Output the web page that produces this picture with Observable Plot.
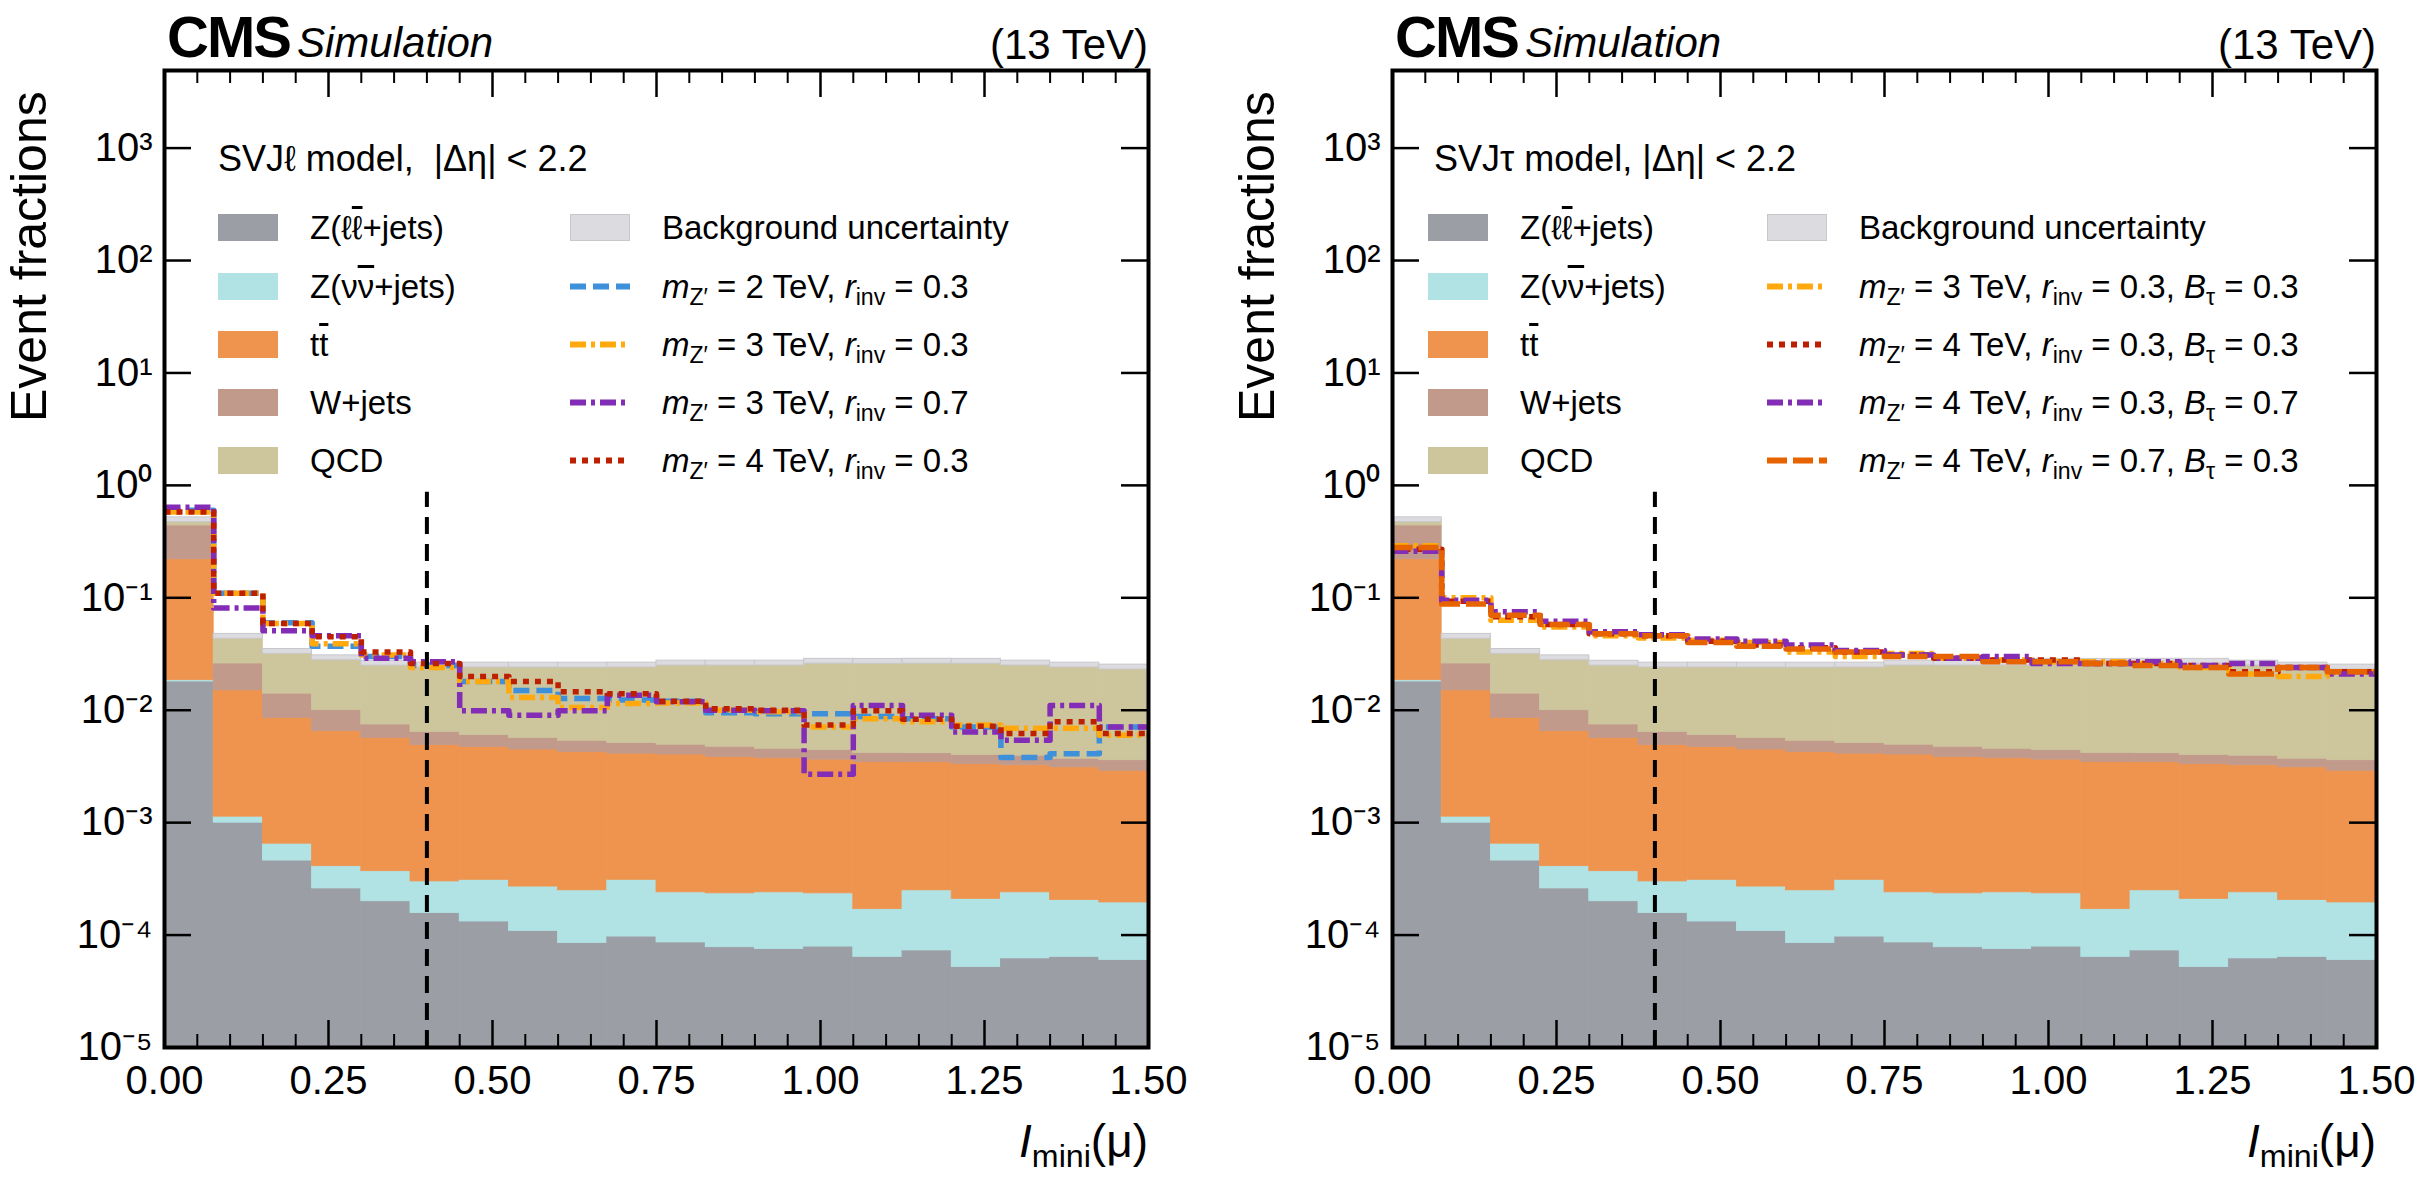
<!DOCTYPE html>
<html><head><meta charset="utf-8">
<script src="https://cdn.jsdelivr.net/npm/d3@7"></script>
<script src="https://cdn.jsdelivr.net/npm/@observablehq/plot@0.6"></script>
<style>
body{margin:0;background:#fff;font-family:"Liberation Sans",Arial,sans-serif;}
#root{position:relative;width:2435px;height:1183px;overflow:hidden;}
.pn{position:absolute;top:0;}
.t{position:absolute;white-space:nowrap;line-height:1;color:#000;}
.sw{position:absolute;width:60px;height:27px;}
sub{font-size:70%;vertical-align:-0.3em;line-height:0;}
</style></head><body><div id="root"></div>
<script>
// bin lower edges (Imini)
const binLo = [0,0.075,0.15,0.225,0.3,0.375,0.45,0.525,0.6,0.675,0.75,0.825,0.9,0.975,1.05,1.125,1.2,1.275,1.35,1.425];
const binHi = 1.5;
// background contributions (event fractions), stacked bottom -> top
const zll = [0.018,1.0e-3,4.6e-4,2.6e-4,2.0e-4,1.57e-4,1.32e-4,1.09e-4,8.5e-5,9.7e-5,8.6e-5,7.8e-5,7.5e-5,7.9e-5,6.4e-5,7.3e-5,5.2e-5,6.2e-5,6.4e-5,6.0e-5];
const znn = [5e-4,1.3e-4,1.9e-4,1.5e-4,1.7e-4,1.43e-4,1.78e-4,1.61e-4,1.65e-4,2.13e-4,1.54e-4,1.57e-4,1.65e-4,1.56e-4,1.06e-4,1.77e-4,1.58e-4,1.78e-4,1.41e-4,1.35e-4];
const ttbar = [0.2015,0.0139,0.0079,0.0061,0.0053,0.0046,0.0044,0.0042,0.0040,0.0038,0.0038,0.0036,0.0035,0.0034,0.0033,0.0032,0.0031,0.0030,0.0029,0.0027];
const wjets = [0.22,0.011,0.0055,0.0035,0.0018,0.0015,0.0013,0.0012,0.0011,0.0010,0.0009,0.0009,0.0008,0.0008,0.0007,0.0007,0.0007,0.0007,0.0006,0.0007];
const qcd = [0.05,0.019,0.019,0.019,0.0185,0.0186,0.019,0.0193,0.0196,0.0199,0.0211,0.0213,0.0215,0.0226,0.0228,0.0229,0.023,0.0221,0.0213,0.0204];
const procNames = ["zll","znn","tt","wj","qcd"];
const procColors = ["#9c9ea6","#b1e3e5","#ee944f","#c29a8c","#cdc59c"];
const uncLo = 0.96, uncHi = 1.06;
// left panel signals (SVJ lepton)
const sL_m2r03 = [0.60,0.11,0.060,0.037,0.030,0.025,0.018,0.015,0.0127,0.0123,0.012,0.0095,0.0093,0.0093,0.0088,0.0084,0.0071,0.0038,0.0041,0.0071];
const sL_m3r03 = [0.58,0.11,0.059,0.039,0.031,0.024,0.018,0.013,0.0106,0.0115,0.0116,0.010,0.0097,0.0071,0.0084,0.0079,0.0074,0.0069,0.0069,0.006];
const sL_m3r07 = [0.64,0.081,0.051,0.046,0.029,0.027,0.0099,0.009,0.0099,0.0136,0.0119,0.010,0.0099,0.0027,0.011,0.009,0.0064,0.0054,0.011,0.0071];
const sL_m4r03 = [0.58,0.11,0.059,0.045,0.033,0.026,0.020,0.018,0.0146,0.014,0.012,0.0103,0.010,0.0074,0.0099,0.0083,0.0072,0.0062,0.0079,0.0062];
// right panel signals (SVJ tau)
const sR_m3r03b03 = [0.29,0.10,0.063,0.055,0.046,0.044,0.042,0.040,0.033,0.030,0.032,0.029,0.028,0.027,0.027,0.026,0.024,0.021,0.020,0.022];
const sR_m4r03b03 = [0.27,0.093,0.068,0.058,0.048,0.046,0.041,0.038,0.036,0.033,0.031,0.029,0.028,0.028,0.026,0.026,0.025,0.022,0.024,0.022];
const sR_m4r03b07 = [0.26,0.095,0.075,0.062,0.050,0.047,0.043,0.041,0.038,0.034,0.031,0.029,0.030,0.026,0.026,0.027,0.025,0.026,0.024,0.021];
const sR_m4r07b03 = [0.28,0.088,0.070,0.058,0.048,0.046,0.040,0.037,0.035,0.033,0.030,0.030,0.027,0.027,0.026,0.025,0.024,0.021,0.024,0.022];
const xTicks = [0,0.25,0.5,0.75,1.0,1.25,1.5];
const xMinor = [0.05,0.1,0.15,0.2,0.3,0.35,0.4,0.45,0.55,0.6,0.65,0.7,0.8,0.85,0.9,0.95,1.05,1.1,1.15,1.2,1.3,1.35,1.4,1.45];
const yTicks = [1e-5,1e-4,1e-3,1e-2,1e-1,1,10,100,1000];
const yDomain = [1e-5, 4900];
const cutX = 0.4, cutTop = 0.87;

const FONT = '"Liberation Sans",Arial,sans-serif';
const supMap = {"-":"⁻","0":"⁰","1":"¹","2":"²","3":"³","4":"⁴","5":"⁵","6":"⁶","7":"⁷","8":"⁸","9":"⁹"};
const fmtY = d => "10" + String(Math.round(Math.log10(d))).split("").map(c=>supMap[c]).join("");

function panel(o){
  const W=o.width,H=1183,mt=70,mb=136,ml=o.ml,mr=o.mr;
  const iw=W-ml-mr, ih=H-mt-mb;
  const stacks=[];
  const comps=[zll,znn,ttbar,wjets,qcd];
  const tot=[];
  binLo.forEach((lo,i)=>{
    let acc=0;
    comps.forEach((c,k)=>{
      const b=acc; acc+=c[i];
      stacks.push({x1:lo,x2:i<binLo.length-1?binLo[i+1]:binHi,y1:Math.max(b,1e-5),y2:acc,proc:procNames[k]});
    });
    tot.push({x1:lo,x2:i<binLo.length-1?binLo[i+1]:binHi,y1:acc*uncLo,y2:acc*uncHi});
  });
  const lineMarks=o.signals.map(s=>{
    const pts=binLo.map((x,i)=>({x,y:s.v[i]})).concat([{x:binHi,y:s.v[s.v.length-1]}]);
    return Plot.line(pts,{x:"x",y:"y",curve:"step-after",stroke:s.color,strokeWidth:5.5,strokeDasharray:s.dash,strokeLinecap:"butt"});
  });
  return Plot.plot({
    width:W,height:H,marginTop:mt,marginBottom:mb,marginLeft:ml,marginRight:mr,
    style:{fontFamily:FONT,fontSize:"40px",color:"#000",background:"transparent"},
    x:{domain:[0,1.5]},
    y:{type:"log",domain:yDomain},
    color:{domain:procNames,range:procColors},
    marks:[
      Plot.rect(stacks,{x1:"x1",x2:"x2",y1:"y1",y2:"y2",fill:"proc",stroke:"proc",strokeWidth:0.8}),
      Plot.rect(tot,{x1:"x1",x2:"x2",y1:"y1",y2:"y2",fill:"#dcdce0",stroke:"#c8c8cc",strokeWidth:1}),
      ...lineMarks,
      Plot.ruleX([cutX],{y1:yDomain[0],y2:cutTop,stroke:"#000",strokeWidth:4,strokeDasharray:"17 10"}),
      Plot.tickX(xTicks,{x:d=>d,insetTop:ih-27,strokeWidth:2.5}),
      Plot.tickX(xTicks,{x:d=>d,insetBottom:ih-27,strokeWidth:2.5}),
      Plot.tickX(xMinor,{x:d=>d,insetTop:ih-13,strokeWidth:2}),
      Plot.tickX(xMinor,{x:d=>d,insetBottom:ih-13,strokeWidth:2}),
      Plot.tickY(yTicks,{y:d=>d,insetRight:iw-27,strokeWidth:2.5}),
      Plot.tickY(yTicks,{y:d=>d,insetLeft:iw-27,strokeWidth:2.5}),
      Plot.axisX({ticks:xTicks,tickSize:0,tickPadding:18,tickFormat:d3.format(".2f"),fontSize:40,label:null}),
      Plot.axisY({ticks:yTicks,tickSize:0,tickPadding:12,tickFormat:fmtY,fontSize:40,label:null}),
      Plot.frame({stroke:"#000",strokeWidth:4})
    ]
  });
}

const root=document.getElementById("root");
function addText(html,x,baseline,size,extra){
  const d=document.createElement("div");d.className="t";d.innerHTML=html;
  d.style.left=x+"px";d.style.top=(baseline-0.86*size)+"px";d.style.fontSize=size+"px";
  if(extra) Object.assign(d.style,extra);
  root.appendChild(d);return d;
}
function addSwatch(x,cy,fill,line){
  const s=document.createElementNS("http://www.w3.org/2000/svg","svg");
  s.setAttribute("class","sw");s.style.left=x+"px";s.style.top=(cy-13.5)+"px";
  s.setAttribute("width",60);s.setAttribute("height",27);
  if(fill){s.innerHTML=`<rect x="0.5" y="0.5" width="59" height="26" fill="${fill}" stroke="${fill==='#dcdce0'?'#c8c8cc':fill}" stroke-width="1"/>`;}
  else{s.innerHTML=`<line x1="0" x2="60" y1="13.5" y2="13.5" stroke="${line.color}" stroke-width="6" stroke-dasharray="${line.dash}"/>`;}
  root.appendChild(s);
}
const DASH={dashed:"16 7",dashdot:"16 5 4 5",dotted:"6 6",long:"20 6"};
const leftSignals=[
  {v:sL_m2r03,color:"#3f90da",dash:DASH.dashed,label:"<i>m</i><sub>Z′</sub> = 2 TeV, <i>r</i><sub>inv</sub> = 0.3"},
  {v:sL_m3r03,color:"#ffa90e",dash:DASH.dashdot,label:"<i>m</i><sub>Z′</sub> = 3 TeV, <i>r</i><sub>inv</sub> = 0.3"},
  {v:sL_m3r07,color:"#832db6",dash:DASH.dashdot,label:"<i>m</i><sub>Z′</sub> = 3 TeV, <i>r</i><sub>inv</sub> = 0.7"},
  {v:sL_m4r03,color:"#bd1f01",dash:DASH.dotted,label:"<i>m</i><sub>Z′</sub> = 4 TeV, <i>r</i><sub>inv</sub> = 0.3"}];
const rightSignals=[
  {v:sR_m3r03b03,color:"#ffa90e",dash:DASH.dashdot,label:"<i>m</i><sub>Z′</sub> = 3 TeV, <i>r</i><sub>inv</sub> = 0.3, <i>B</i><sub>τ</sub> = 0.3"},
  {v:sR_m4r03b03,color:"#bd1f01",dash:DASH.dotted,label:"<i>m</i><sub>Z′</sub> = 4 TeV, <i>r</i><sub>inv</sub> = 0.3, <i>B</i><sub>τ</sub> = 0.3"},
  {v:sR_m4r03b07,color:"#832db6",dash:DASH.dashdot,label:"<i>m</i><sub>Z′</sub> = 4 TeV, <i>r</i><sub>inv</sub> = 0.3, <i>B</i><sub>τ</sub> = 0.7"},
  {v:sR_m4r07b03,color:"#e76300",dash:DASH.long,label:"<i>m</i><sub>Z′</sub> = 4 TeV, <i>r</i><sub>inv</sub> = 0.7, <i>B</i><sub>τ</sub> = 0.3"}];
const bgLabels=["Z(ℓ<span style='text-decoration:overline'>ℓ</span>+jets)","Z(ν<span style='text-decoration:overline'>ν</span>+jets)","t<span style='text-decoration:overline'>t</span>","W+jets","QCD"];

function build(px,ml,mr,width,signals,title,leg){
  const wrap=document.createElement("div");wrap.className="pn";wrap.style.left=px+"px";
  wrap.appendChild(panel({width,ml,mr,signals}));root.appendChild(wrap);
  const fl=px+ml, fr=px+width-mr;
  addText("<b>CMS</b>",fl+3,58,58,{fontWeight:"bold",letterSpacing:"-2px"});
  addText("<i>Simulation</i>",fl+133,58,42);
  const e=addText("(13 TeV)",0,60,42);e.style.left="auto";e.style.right=(2435-fr)+"px";
  const yl=addText("Event fractions",0,0,50,{transformOrigin:"0 0"});
  yl.style.left=(px+ml-160)+"px";yl.style.top=(70+352)+"px";yl.style.transform="rotate(-90deg)";
  const xl=addText("<i>I</i><sub>mini</sub>(μ)",0,1158,46);xl.style.left="auto";xl.style.right=(2435-fr)+"px";
  addText(title,fl+leg.title,172,36);
  const rows=[227,286,344,402,460];
  rows.forEach((cy,i)=>{addSwatch(fl+leg.c1,cy,procColors[i]);addText(bgLabels[i],fl+leg.c1+92,cy+12,33);});
  addSwatch(fl+leg.c2,rows[0],"#dcdce0");addText("Background uncertainty",fl+leg.c2+92,rows[0]+12,33);
  signals.forEach((s,i)=>{addSwatch(fl+leg.c2,rows[i+1],null,s);addText(s.label,fl+leg.c2+92,rows[i+1]+12,33);});
}
build(0,164,69,1217,leftSignals,"SVJℓ model,&nbsp; |Δη| &lt; 2.2",{title:54,c1:54,c2:406});
build(1217,175,59,1218,rightSignals,"SVJτ model, |Δη| &lt; 2.2",{title:42,c1:36,c2:375});
</script></body></html>
